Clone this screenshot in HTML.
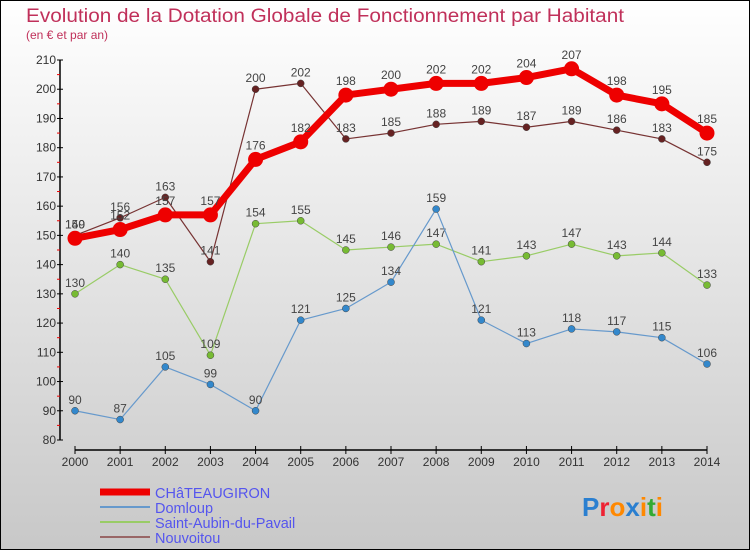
<!DOCTYPE html>
<html><head><meta charset="utf-8"><style>
body{margin:0;width:750px;height:550px;overflow:hidden;font-family:"Liberation Sans",sans-serif}
</style></head><body>
<svg id="c" width="750" height="550" xmlns="http://www.w3.org/2000/svg">
<defs><linearGradient id="bg" x1="0" y1="0" x2="0" y2="1"><stop offset="0" stop-color="#ffffff"/><stop offset="1" stop-color="#c8c8c8"/></linearGradient></defs>
<rect x="0.5" y="0.5" width="749" height="549" fill="url(#bg)" stroke="#000"/>
<text x="26" y="22" font-size="19" fill="#c0305a" textLength="598" lengthAdjust="spacingAndGlyphs">Evolution de la Dotation Globale de Fonctionnement par Habitant</text>
<text x="26" y="39" font-size="12" fill="#c0305a">(en € et par an)</text>
<g id="axes"></g><g id="series"></g><g id="legend"></g>
<text x="582" y="516" font-size="26" font-weight="bold"><tspan fill="#2a7fd0">P</tspan><tspan fill="#e23">r</tspan><tspan fill="#f80">o</tspan><tspan fill="#2a7fd0">x</tspan><tspan fill="#f80">i</tspan><tspan fill="#3a3">t</tspan><tspan fill="#f80">i</tspan></text>
</svg>
<script>
const years=[2000,2001,2002,2003,2004,2005,2006,2007,2008,2009,2010,2011,2012,2013,2014];
const yTicks=[80,90,100,110,120,130,140,150,160,170,180,190,200,210];
const chateaugiron=[149,152,157,157,176,182,198,200,202,202,204,207,198,195,185];
const domloup=[90,87,105,99,90,121,125,134,159,121,113,118,117,115,106];
const saintAubin=[130,140,135,109,154,155,145,146,147,141,143,147,143,144,133];
const nouvoitou=[150,156,163,141,200,202,183,185,188,189,187,189,186,183,175];
const names=["CHâTEAUGIRON","Domloup","Saint-Aubin-du-Pavail","Nouvoitou"];
const NS="http://www.w3.org/2000/svg";
function X(i){return 75+i*(707-75)/14;}
function Y(v){return 440-(v-80)*(380/130);}
function mk(t,a,p){const e=document.createElementNS(NS,t);for(const k in a)e.setAttribute(k,a[k]);p.appendChild(e);return e;}
const ax=document.getElementById('axes');
mk('line',{x1:60,y1:Y(210),x2:60,y2:440,stroke:'#000','stroke-width':1.5},ax);
mk('line',{x1:75,y1:450,x2:707,y2:450,stroke:'#000','stroke-width':1.5},ax);
yTicks.forEach(v=>{mk('line',{x1:57,y1:Y(v),x2:63,y2:Y(v),stroke:'#000'},ax);
 if(v<210)mk('line',{x1:57,y1:Y(v+5),x2:60,y2:Y(v+5),stroke:'#e00'},ax);
 const t=mk('text',{x:56,y:Y(v)+4,'font-size':12,'text-anchor':'end',fill:'#333'},ax);t.textContent=v;
 
 });
years.forEach((y,i)=>{mk('line',{x1:X(i),y1:446,x2:X(i),y2:454,stroke:'#000'},ax);
 const t=mk('text',{x:X(i),y:466,'font-size':12,'text-anchor':'middle',fill:'#333'},ax);t.textContent=y;
 
 });
const sg=document.getElementById('series');
const defs=[[saintAubin,'#99cc66','#77bb33',1.2,3.5,'series-saint-aubin'],[domloup,'#6699cc','#3388cc',1.2,3.5,'series-domloup'],[nouvoitou,'#773333','#662222',1.2,3.5,'series-nouvoitou'],[chateaugiron,'#ee0000','#ee0000',7,7.5,'series-chateaugiron']];
defs.forEach(([d,lc,pc,w,r,nm])=>{const g=mk('g',{},sg);
 
 
 mk('polyline',{points:d.map((v,i)=>X(i)+','+Y(v)).join(' '),fill:'none',stroke:lc,'stroke-width':w,'stroke-linejoin':'round'},g);
 d.forEach((v,i)=>{const c=mk('circle',{cx:X(i),cy:Y(v),r:r,fill:pc,stroke:w>2?'none':'#444','stroke-width':0.5},g);
  
  
  const t=mk('text',{x:X(i),y:Y(v)-(w>2?10:7),'font-size':12,'text-anchor':'middle',fill:'#444'},g);t.textContent=v;
  
  });});
const lg=document.getElementById('legend');
const lcols=['#ee0000','#6699cc','#99cc66','#996666'];const lw=[7,2,2,2];
names.forEach((n,i)=>{const y=492+i*15;const g=mk('g',{},lg);
 
 
 mk('line',{x1:100,y1:y,x2:150,y2:y,stroke:lcols[i],'stroke-width':lw[i]},g);
 const t=mk('text',{x:155,y:y+6,'font-size':14.5,fill:'#5555ee'},g);t.textContent=n;});
</script>
</body></html>
